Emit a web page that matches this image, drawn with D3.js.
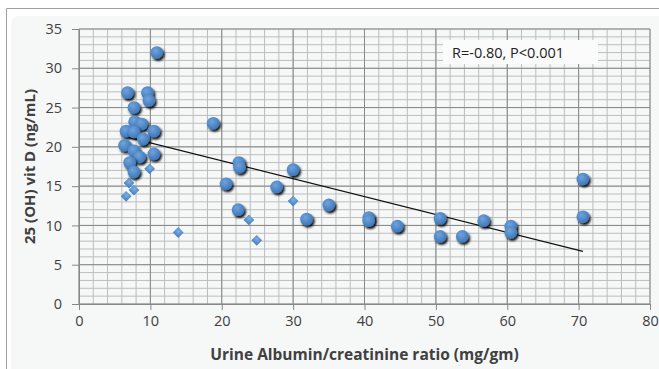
<!DOCTYPE html>
<html>
<head>
<meta charset="utf-8">
<script src="https://cdn.jsdelivr.net/npm/d3@7"></script>
<style>
  html, body { margin: 0; padding: 0; background: #fff; }
  svg { display: block; font-family: "Open Sans", "Liberation Sans", sans-serif; }
</style>
</head>
<body>
<div id="chart"></div>
<script>
// big markers (with shadow)
const bigX = [10.9, 6.8, 9.6, 9.8, 7.7, 7.8, 8.8, 6.6, 7.7, 10.5, 9.0, 6.4, 7.7, 8.5, 10.5, 7.1, 7.7,
  18.8, 22.4, 22.5, 30.0, 20.6, 27.7, 22.3, 31.9, 35.0, 40.6, 40.6, 44.6, 50.6, 50.6, 53.7, 56.7, 60.5, 60.5, 70.6, 70.6];
const bigY = [32.0, 26.9, 26.9, 25.9, 25.0, 23.2, 22.9, 22.0, 21.9, 22.0, 21.0, 20.2, 19.5, 18.7, 19.1, 18.0, 16.8,
  23.0, 18.0, 17.4, 17.1, 15.3, 14.9, 12.0, 10.8, 12.6, 11.0, 10.6, 9.9, 10.9, 8.6, 8.6, 10.6, 9.9, 9.1, 15.9, 11.1];
// small markers
const smallX = [9.9, 7.0, 7.7, 6.6, 13.9, 30.0, 23.8, 24.9];
const smallY = [17.2, 15.4, 14.5, 13.7, 9.1, 13.1, 10.7, 8.1];
// trend line ends
const trendX = [6.5, 70.6];
const trendY = [21.3, 6.7];

const xTicks = [0, 10, 20, 30, 40, 50, 60, 70, 80];
const yTicks = [0, 5, 10, 15, 20, 25, 30, 35];
const xMinor = d3.range(0, 81, 2);
const yMinor = d3.range(0, 36, 1);

const W = 659, H = 369;
const svg = d3.select("#chart").append("svg").attr("width", W).attr("height", H);

const defs = svg.append("defs");
const f = defs.append("filter").attr("id", "shadow")
  .attr("x", "-50%").attr("y", "-50%").attr("width", "200%").attr("height", "200%");
f.append("feDropShadow").attr("dx", 1.5).attr("dy", 2).attr("stdDeviation", 1.1)
  .attr("flood-color", "#000").attr("flood-opacity", 0.95);
const g1 = defs.append("radialGradient").attr("id", "ball").attr("cx", "40%").attr("cy", "35%").attr("r", "65%");
g1.append("stop").attr("offset", "0%").attr("stop-color", "#6fa3dc");
g1.append("stop").attr("offset", "100%").attr("stop-color", "#3e77b8");
const g2 = defs.append("radialGradient").attr("id", "dia").attr("cx", "40%").attr("cy", "35%").attr("r", "65%");
g2.append("stop").attr("offset", "0%").attr("stop-color", "#7db0e4");
g2.append("stop").attr("offset", "100%").attr("stop-color", "#4a86c6");

// frame
svg.append("path").attr("d", "M6.5," + H + " V8.5 H" + W).attr("fill", "none").attr("stroke", "#a0a0a0");
svg.append("rect").attr("x", 11).attr("y", 16).attr("width", W).attr("height", H)
  .attr("rx", 8).attr("fill", "#f6f7f7");

const x = d3.scaleLinear().domain([0, 80]).range([79, 650]);
const y = d3.scaleLinear().domain([0, 35]).range([304, 29]);

const grid = svg.append("g");
grid.selectAll(".vm").data(xMinor).join("line")
  .attr("x1", d => x(d)).attr("x2", d => x(d)).attr("y1", y(35)).attr("y2", y(0))
  .attr("stroke", "#bdbdbd").attr("stroke-width", 1);
grid.selectAll(".hm").data(yMinor).join("line")
  .attr("x1", x(0)).attr("x2", x(80)).attr("y1", d => y(d)).attr("y2", d => y(d))
  .attr("stroke", "#bdbdbd").attr("stroke-width", 1);
grid.selectAll(".vM").data(xTicks).join("line")
  .attr("x1", d => x(d)).attr("x2", d => x(d)).attr("y1", y(35)).attr("y2", y(0))
  .attr("stroke", "#888").attr("stroke-width", 1);
grid.selectAll(".hM").data(yTicks).join("line")
  .attr("x1", x(0)).attr("x2", x(80)).attr("y1", d => y(d)).attr("y2", d => y(d))
  .attr("stroke", "#888").attr("stroke-width", 1);

const xAxis = svg.append("g").attr("transform", "translate(0," + y(0) + ")")
  .call(d3.axisBottom(x).tickValues(xTicks).tickSize(6).tickSizeOuter(0).tickPadding(6));
const yAxis = svg.append("g").attr("transform", "translate(" + x(0) + ",0)")
  .call(d3.axisLeft(y).tickValues(yTicks).tickSize(7).tickSizeOuter(0).tickPadding(10));
[xAxis, yAxis].forEach(a => {
  a.select(".domain").attr("stroke", "#888");
  a.selectAll(".tick line").attr("stroke", "#888");
  a.selectAll(".tick text").attr("fill", "#404040").style("font-size", "14.5px")
    .style("font-family", "'Open Sans', sans-serif");
});

// trend line
svg.append("line")
  .attr("x1", x(trendX[0])).attr("y1", y(trendY[0]))
  .attr("x2", x(trendX[1])).attr("y2", y(trendY[1]))
  .attr("stroke", "#111").attr("stroke-width", 1.2);

// small markers
svg.selectAll(".sm").data(smallX).join("path")
  .attr("d", d3.symbol(d3.symbolSquare).size(58))
  .attr("transform", (d, i) => "translate(" + x(d) + "," + y(smallY[i]) + ") rotate(45)")
  .attr("fill", "url(#dia)");

// big markers
svg.selectAll(".bg").data(bigX).join("circle")
  .attr("cx", d => x(d)).attr("cy", (d, i) => y(bigY[i])).attr("r", 6.4)
  .attr("fill", "url(#ball)").attr("filter", "url(#shadow)");

// annotation
svg.append("rect").attr("x", 443).attr("y", 40).attr("width", 155).attr("height", 24).attr("fill", "#fbfbfb");
svg.append("text").attr("x", 452).attr("y", 58).text("R=-0.80, P<0.001")
  .attr("fill", "#222").style("font-size", "14.5px");

// axis titles
svg.append("text").attr("x", (x(0) + x(80)) / 2).attr("y", 360).attr("text-anchor", "middle")
  .attr("fill", "#404040").style("font-size", "15.5px").style("font-weight", "bold")
  .text("Urine Albumin/creatinine ratio (mg/gm)");
svg.append("text").attr("transform", "translate(35," + (y(0) + y(35)) / 2 + ") rotate(-90)")
  .attr("text-anchor", "middle").attr("fill", "#404040")
  .style("font-size", "15px").style("font-weight", "bold")
  .text("25 (OH) vit D (ng/mL)");
</script>
</body>
</html>
